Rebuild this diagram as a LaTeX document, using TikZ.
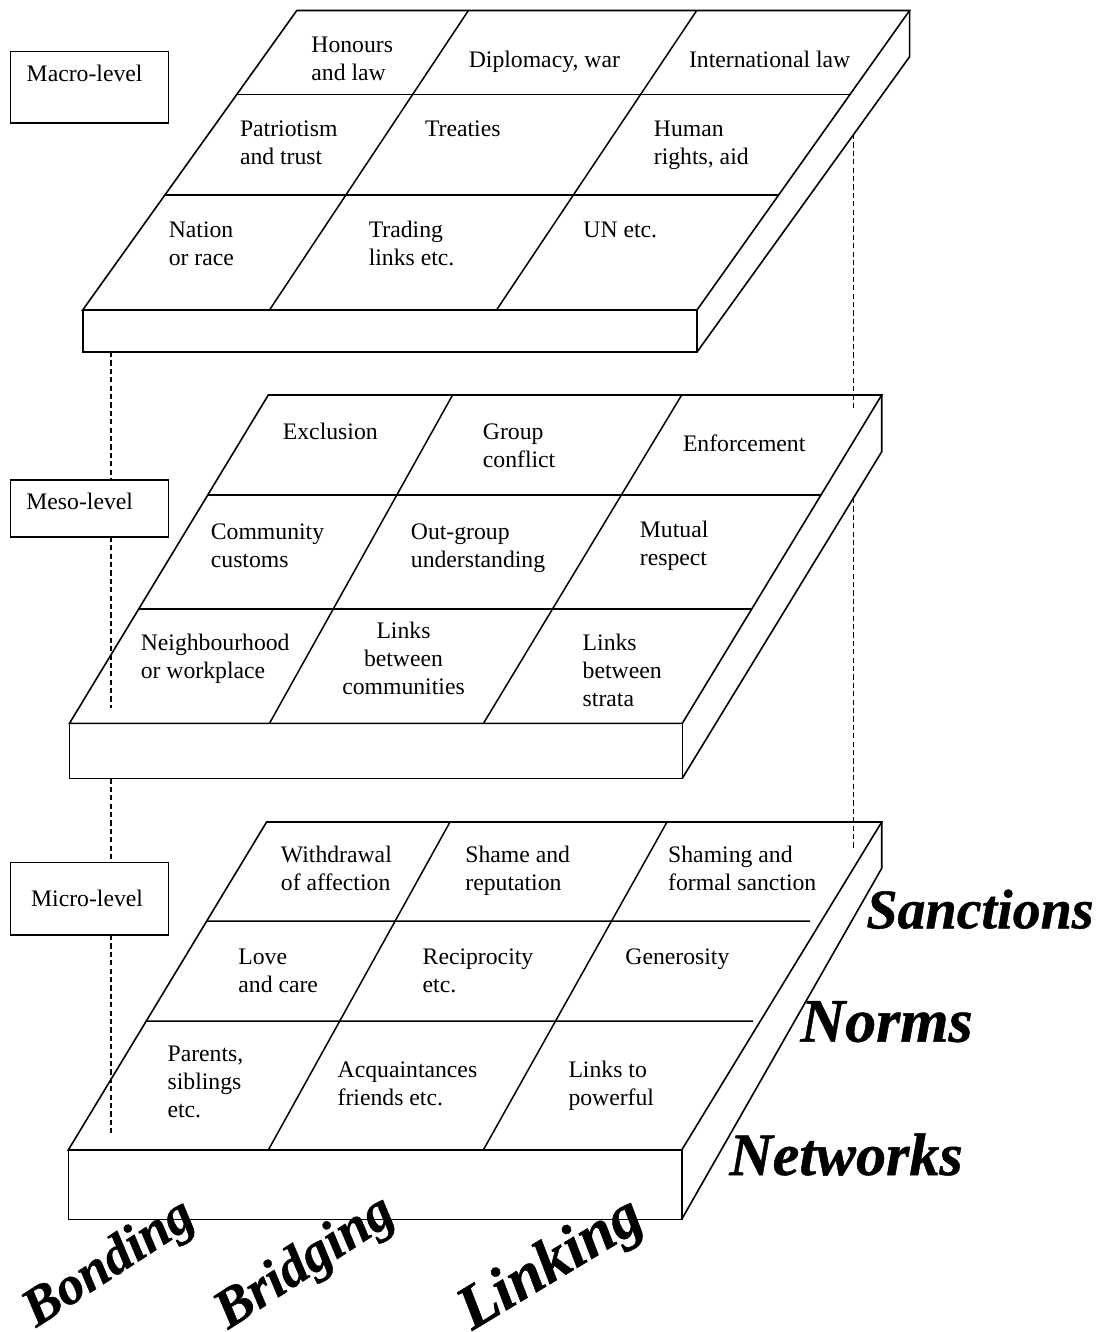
\documentclass[tikz,border=0pt]{standalone}
\usepackage{fontspec}
\setmainfont{Liberation Serif}
\newfontfamily\dimfont[FakeBold=0.8]{Liberation Serif}
\usetikzlibrary{calc}
% multi-line cell text whose baseline is the baseline of its first line
\newcommand{\cellstack}[2][l]{\begin{tabular}[t]{@{}#1@{}}#2\end{tabular}}
\begin{document}
\begin{tikzpicture}[x=0.5pt,y=-0.5pt,
  edge/.style={line width=0.8pt, line join=miter},
  gridline/.style={line width=0.75pt},
  guide/.style={line width=0.7pt, dash pattern=on 2.6pt off 1.6pt},
  levelbox/.style={line width=0.8pt},
  cell/.style={font=\fontsize{11.85}{14}\selectfont, anchor=base west, inner sep=0pt},
  ccell/.style={cell, anchor=base},
  dimlabel/.style={font=\dimfont\fontsize{#1}{#1}\selectfont\bfseries\itshape, anchor=base west, inner sep=0pt},
  typelabel/.style={dimlabel=#1, rotate=33},
]
\useasboundingbox (0,0) rectangle (1099,1332);

% ---------------- slab corners ----------------
% macro
\coordinate (aFL) at (82.7,310);   \coordinate (aBL) at (296.8,10.5);
\coordinate (aBR) at (909.6,10.5); \coordinate (aFR) at (697,310);
\coordinate (aFLb) at (82.7,352);  \coordinate (aFRb) at (697,352);
\coordinate (aBRb) at (909.6,56.7);
% meso
\coordinate (bFL) at (69.5,723.3);  \coordinate (bBL) at (268.3,395);
\coordinate (bBR) at (881.7,395);   \coordinate (bFR) at (682.3,723.3);
\coordinate (bFLb) at (69.5,778.3); \coordinate (bFRb) at (682.3,778.3);
\coordinate (bBRb) at (881.7,451.7);
% micro
\coordinate (cFL) at (68.3,1150);    \coordinate (cBL) at (266.6,822);
\coordinate (cBR) at (881.7,822);    \coordinate (cFR) at (681.7,1150);
\coordinate (cFLb) at (68.3,1219.3); \coordinate (cFRb) at (681.7,1219.3);
\coordinate (cBRb) at (881.7,868.3);

% ---------------- slabs ----------------
\foreach \s in {a,b,c}{
  \draw[edge] (\s FL) -- (\s BL) -- (\s BR) -- (\s FR) -- cycle;
  \draw[edge] (\s FL) -- (\s FLb) -- (\s FRb) -- (\s FR);
  \draw[edge] (\s BR) -- (\s BRb) -- (\s FRb);
}

% macro grid
\draw[gridline] ($(aFL)!0.720!(aBL)$) -- ($(aFR)!0.720!(aBR)$);
\draw[gridline] ($(aFL)!0.384!(aBL)$) -- ($(aFR)!0.384!(aBR)$);
\draw[gridline] (269.5,310) -- (468.4,10.5);
\draw[gridline] (496.5,310) -- (696.7,10.5);
% meso grid
\draw[gridline] ($(bFL)!0.695!(bBL)$) -- ($(bFR)!0.695!(bBR)$);
\draw[gridline] ($(bFL)!0.348!(bBL)$) -- ($(bFR)!0.348!(bBR)$);
\draw[gridline] (269.5,723.3) -- (452.6,395);
\draw[gridline] (483.5,723.3) -- (681.7,395);
% micro grid
\draw[gridline] ($(cFL)!0.698!(cBL)$) -- (810,921);
\draw[gridline] ($(cFL)!0.393!(cBL)$) -- (753,1021);
\draw[gridline] (268.3,1150) -- (450,822);
\draw[gridline] (483.3,1150) -- (667,822);

% ---------------- level boxes ----------------
\draw[levelbox] (10.5,51.7) rectangle (168.4,123.3);
\draw[levelbox] (10.5,480) rectangle (168.4,536.7);
\draw[levelbox] (10.5,862.5) rectangle (168.4,935);
\node[cell] (macro) at (26.3,81.7) {Macro-level};
\node[cell] (meso)  at (26,509.3)  {Meso-level};
\node[cell] (micro) at (30.7,906.4) {Micro-level};

% ---------------- vertical guides ----------------
\draw[guide] (111,352) -- (111,480);
\draw[guide] (111,536.7) -- (111,708);
\draw[guide] (111,778.3) -- (111,862.5);
\draw[guide] (111,935) -- (111,1133);
\draw[guide] (853.5,134) -- (853.5,408);
\draw[guide] (853.5,498) -- (853.5,850);

% ---------------- macro cells ----------------
\node[cell] (a11) at (311,53)    {\cellstack{Honours\\and law}};
\node[cell] (a12) at (468.4,68)  {Diplomacy, war};
\node[cell] (a13) at (688.6,68)  {International law};
\node[cell] (a21) at (239.6,137) {\cellstack{Patriotism\\and trust}};
\node[cell] (a22) at (424.6,137) {Treaties};
\node[cell] (a23) at (653.5,137) {\cellstack{Human\\rights, aid}};
\node[cell] (a31) at (168.4,237) {\cellstack{Nation\\or race}};
\node[cell] (a32) at (368.4,237) {\cellstack{Trading\\links etc.}};
\node[cell] (a33) at (583,238)   {UN etc.};

% ---------------- meso cells ----------------
\node[cell] (b11) at (282.5,439)   {Exclusion};
\node[cell] (b12) at (482.5,439)   {\cellstack{Group\\conflict}};
\node[cell] (b13) at (682.6,451.7) {Enforcement};
\node[cell] (b21) at (210.5,539)   {\cellstack{Community\\customs}};
\node[cell] (b22) at (410.5,539)   {\cellstack{Out-group\\understanding}};
\node[cell] (b23) at (639.5,537.3) {\cellstack{Mutual\\respect}};
\node[cell] (b31) at (140.4,650)   {\cellstack{Neighbourhood\\or workplace}};
\node[ccell] (b32) at (403.5,638.3) {\cellstack[c]{Links\\between\\communities}};
\node[cell] (b33) at (582.3,650.7) {\cellstack{Links\\between\\strata}};

% ---------------- micro cells ----------------
\node[cell] (c11) at (280.5,862.5) {\cellstack{Withdrawal\\of affection}};
\node[cell] (c12) at (465,862.5)   {\cellstack{Shame and\\reputation}};
\node[cell] (c13) at (667.8,862.5) {\cellstack{Shaming and\\formal sanction}};
\node[cell] (c21) at (238,964)     {\cellstack{Love\\and care}};
\node[cell] (c22) at (422.3,964)   {\cellstack{Reciprocity\\etc.}};
\node[cell] (c23) at (625,964.5)   {Generosity};
\node[cell] (c31) at (167.2,1061.8) {\cellstack{Parents,\\siblings\\etc.}};
\node[cell] (c32) at (337.3,1077)  {\cellstack{Acquaintances\\friends etc.}};
\node[cell] (c33) at (568.1,1077)  {\cellstack{Links to\\powerful}};

% ---------------- dimension labels ----------------
\node[dimlabel=28] (sanctions) at (866,928.3)  {Sanctions};
\node[dimlabel=31] (norms)     at (800,1041.7) {Norms};
\node[dimlabel=30] (networks)  at (729,1175)   {Networks};
\node[typelabel=27]   (bonding)  at (36,1328)  {Bonding};
\node[typelabel=27.5] (bridging) at (228,1330) {Bridging};
\node[typelabel=31, rotate=-2] (linking)  at (472,1331) {Linking};
\end{tikzpicture}
\end{document}
